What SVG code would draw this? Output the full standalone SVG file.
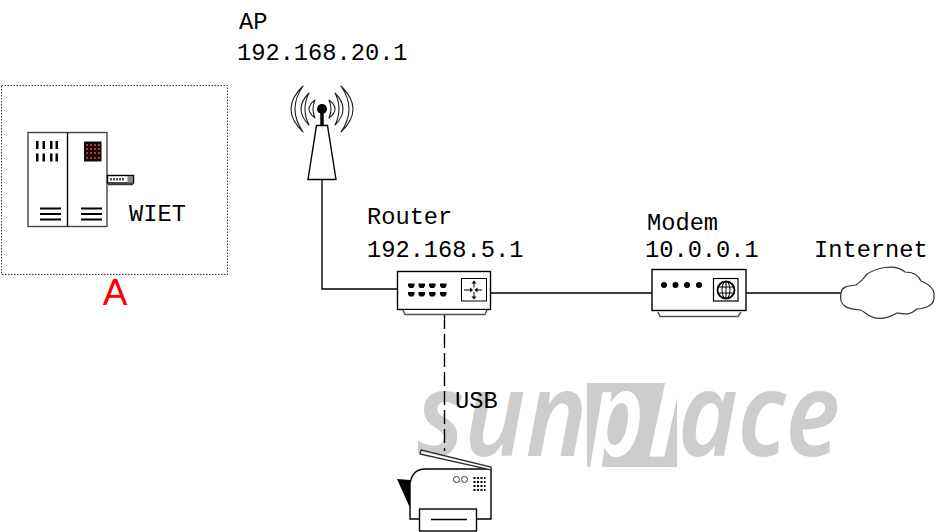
<svg xmlns="http://www.w3.org/2000/svg" width="942" height="532" viewBox="0 0 942 532">
<style>
.t{font-family:"Liberation Mono","DejaVu Sans Mono",monospace;font-size:23.7px;fill:#000}
.wm{font-family:"Noto Sans","Open Sans",sans-serif;font-size:118px;font-weight:600;font-style:italic;fill:#cdcdcd}
.o{fill:#fff;stroke:#000;stroke-width:1.4}
.n{fill:none;stroke:#000;stroke-width:1.4}
.k{fill:#000;stroke:none}
.w{fill:#fff;stroke:#222;stroke-width:1.1;stroke-linejoin:round}
</style>
<defs><clipPath id="blk"><rect x="586" y="383" width="91" height="84"/></clipPath></defs>
<rect width="942" height="532" fill="#fff"/>
<g id="watermark">
<text class="wm" x="417" y="456" textLength="170" lengthAdjust="spacingAndGlyphs">sun</text>
<rect x="587" y="383" width="90" height="84" fill="#cdcdcd"/>
<g clip-path="url(#blk)">
<text class="wm" x="590" y="456" style="fill:#fff" textLength="54" lengthAdjust="spacingAndGlyphs">p</text>
<text class="wm" x="647" y="456" style="fill:#fff">l</text>
</g>
<text class="wm" x="678" y="456" textLength="162" lengthAdjust="spacingAndGlyphs">ace</text>
</g>
<g id="connectors">
<path class="n" d="M322 180V289H398"/>
<path class="n" d="M490 293H652"/>
<path class="n" d="M746 293H842"/>
<path class="n" stroke-dasharray="14 5" d="M444.500 315V451"/>
</g>
<g id="site-a">
<rect x="1.500" y="85.500" width="226" height="189" fill="none" stroke="#333" stroke-width="1" stroke-dasharray="1.500 1.500"/>
<text x="115" y="305" text-anchor="middle" style="font-family:'Liberation Sans',Arial,sans-serif;font-size:37px;fill:#f00">A</text>
</g>
<g id="wiet">
<rect x="28" y="132.500" width="79" height="94" class="o" style="stroke:#444"/>
<path class="n" d="M67.500 132.500V226.500"/>
<path class="k" d="M36 141h2.500v8H36zM42.500 141H45v8h-2.500zM50 141h2.500v8H50zM55.500 141H58v8h-2.500zM36 153.500h2.500v8H36zM42.500 153.500H45v8h-2.500zM50 153.500h2.500v8H50zM55.500 153.500H58v8h-2.500z"/>
<rect x="84" y="141.500" width="17.500" height="20" fill="#160a08"/>
<path fill="#b0392c" d="M86 144h2v2h-2zM90 144h2v2h-2zM94 144h2v2h-2zM98 144h2v2h-2zM86 148h2v2h-2zM90 148h2v2h-2zM94 148h2v2h-2zM98 148h2v2h-2zM86 152h2v2h-2zM90 152h2v2h-2zM94 152h2v2h-2zM98 152h2v2h-2zM86 157h2v2h-2zM90 157h2v2h-2zM94 157h2v2h-2zM98 157h2v2h-2z"/>
<path d="M40 208.500h21M40 214h21M40 219.500h21M81 208.500h21M81 214h21M81 219.500h21" fill="none" stroke="#000" stroke-width="1.800"/>
<rect x="107.500" y="175.500" width="26" height="7.500" class="o"/>
<path d="M108 184.500h25" stroke="#333" stroke-width="1.500"/>
<rect x="127.500" y="176" width="5.500" height="6.500" fill="#888"/>
<path d="M110 179.200h14" stroke="#555" stroke-width="2.500" stroke-dasharray="2 1"/>
<text class="t" x="129" y="221">WIET</text>
</g>
<g id="ap">
<path class="o" d="M316.500 125.500H327.500L336 179.500H308Z"/>
<path d="M322 110V125" stroke="#000" stroke-width="3.500"/>
<circle cx="322" cy="109" r="5" class="k"/>
<path class="w" d="M315 100Q303 109 315 118Q311 109 315 100Z"/>
<path class="w" d="M329 100Q341 109 329 118Q333 109 329 100Z"/>
<path class="w" d="M309 93Q293 109 309 125Q301 109 309 93Z"/>
<path class="w" d="M335 93Q351 109 335 125Q343 109 335 93Z"/>
<path class="w" d="M303 86Q279 109 303 132Q287 109 303 86Z"/>
<path class="w" d="M341 86Q365 109 341 132Q357 109 341 86Z"/>
<text class="t" x="239" y="29">AP</text>
<text class="t" x="237" y="60">192.168.20.1</text>
</g>
<g id="router">
<rect x="397.500" y="271.500" width="93" height="38" class="o"/>
<path d="M403 310L405 314.500H485L487 310" fill="#fff" stroke="#555" stroke-width="1.500"/>
<path class="k" d="M408 283.500h6.500v2.500l-1.500 2h-3.500l-1.500-2zM418.500 283.500H425v2.500l-1.500 2H420l-1.500-2zM429 283.500h6.500v2.500l-1.500 2h-3.500l-1.500-2zM440 283.500h6.500v2.500l-1.500 2h-3.500l-1.500-2zM408 292h6.500v2.500l-1.500 2h-3.500l-1.500-2zM418.500 292H425v2.500l-1.500 2H420l-1.500-2zM429 292h6.500v2.500l-1.500 2h-3.500l-1.500-2zM440 292h6.500v2.500l-1.500 2h-3.500l-1.500-2z"/>
<rect x="461.500" y="278.500" width="25" height="22.500" class="n" style="stroke-width:1"/>
<path d="M464 290h7M482 290h-6.500M474 281v6.500M474 298v-6" stroke="#000" stroke-width="1"/>
<path class="k" d="M473 290l-3-2.500v5zM474.500 290l3-2.500v5zM474 280.500l-2.500 3h5zM474 299.500l-2.500-3h5z"/>
<text class="t" x="367" y="224">Router</text>
<text class="t" x="367" y="257">192.168.5.1</text>
</g>
<g id="modem">
<rect x="652" y="269.500" width="94" height="41" class="o"/>
<path d="M658 312L660 316.500H738L741 312" fill="#fff" stroke="#555" stroke-width="1.500"/>
<circle cx="664" cy="285" r="3" class="k"/><circle cx="675.500" cy="285" r="3" class="k"/><circle cx="687" cy="285" r="3" class="k"/><circle cx="699" cy="285" r="3" class="k"/>
<rect x="713.500" y="278.500" width="24.500" height="22.500" class="n" style="stroke-width:1.200"/>
<circle cx="726" cy="290" r="8.500" fill="none" stroke="#000" stroke-width="1.800"/>
<path d="M717.500 287h17M717.500 293h17M726 281.500v17" stroke="#000" stroke-width="1"/>
<ellipse cx="726" cy="290" rx="4" ry="8.500" fill="none" stroke="#000" stroke-width="1"/>
<text class="t" x="647" y="230">Modem</text>
<text class="t" x="645" y="257">10.0.0.1</text>
</g>
<g id="internet">
<path fill="#fff" stroke="#333" stroke-width="1.200" d="M841 293C842 287 846 286 856 285C862 280 864 279 866 275C875 268 895 263 905 272C912 272 918 274 921 281C928 284 935 288 934 296C935 305 927 308 917 309C908 317 902 313 897 313C890 317 879 321 870 316C866 314 864 311 860 310C849 309 838 307 841 293Z"/>
<text class="t" x="814" y="257">Internet</text>
</g>
<g id="usb-label"><text class="t" x="455" y="408">USB</text></g>
<g id="printer">
<path class="k" d="M397 479L410 480V508Z"/>
<path class="o" d="M410 519V484Q412 469 425 469H491V519Z"/>
<path d="M421 450L491 467V470L420 454Z" fill="#fff" stroke="#333" stroke-width="1.300"/>
<rect x="419.500" y="509" width="57" height="22" class="o"/>
<path class="n" d="M431 519.500H467"/>
<circle cx="456.500" cy="479.500" r="3" fill="none" stroke="#333"/><circle cx="464.500" cy="479.500" r="3" fill="none" stroke="#333"/>
<path d="M473.500 478h12M473.500 482h12M473.500 486h12M473.500 490h12" stroke="#000" stroke-width="2" stroke-dasharray="2 1.500" fill="none"/>
</g>
</svg>
